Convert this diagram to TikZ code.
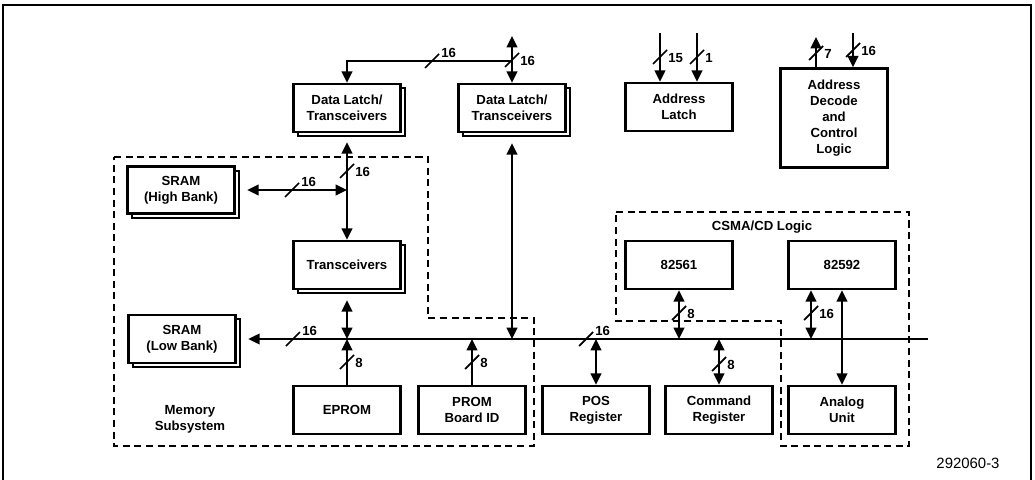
\documentclass[tikz,border=0pt]{standalone}
\usepackage{fontspec}
\setmainfont{Liberation Sans}
\usetikzlibrary{arrows.meta,shadows}

\tikzset{
  blk/.style={draw,line width=1.4pt,fill=white,align=center,inner sep=0pt,
    minimum width=2.14cm,minimum height=0.96cm},
  stk/.style={blk,copy shadow={shadow xshift=2.8pt,shadow yshift=-2.5pt,line width=1.1pt}},
  sig/.style={line width=1.3pt},
  bus/.style={line width=1.1pt},
  grp/.style={line width=1.3pt,dash pattern=on 4pt off 2.6pt},
  hw/.pic={\draw[line width=1pt] (-7,7) -- (7,-7);
    \node[anchor=west,inner sep=0pt] at (9,-8) {#1};},
  vw/.pic={\draw[line width=1pt] (-7,7) -- (7,-7);
    \node[anchor=west,inner sep=0pt] at (8,1) {#1};}
}

\begin{document}
\begin{tikzpicture}[x=0.02cm,y=-0.02cm,>={Triangle[length=6.5pt,width=6pt]},
  font=\bfseries\fontsize{7.5}{9}\selectfont]
\useasboundingbox (0,0) rectangle (1035,480);
\draw[line width=0.8pt] (3,480) -- (3,5) -- (1031,5) -- (1031,480);

% groups
\draw[grp] (114,157) -- (428,157) -- (428,318) -- (534,318) -- (534,446) -- (114,446) -- cycle;
\draw[grp] (616,212) -- (909,212) -- (909,446) -- (781,446) -- (781,321) -- (616,321) -- cycle;
\node[align=center] (mem) at (190,419) {Memory\\Subsystem};
\node (csma) at (762,227) {CSMA/CD Logic};
\node[font=\mdseries\fontsize{8.5}{9}\selectfont] (fig) at (968,463) {292060-3};

% blocks
\node[stk] (dl1) at (347,108) {Data Latch/\\Transceivers};
\node[stk] (dl2) at (512,108) {Data Latch/\\Transceivers};
\node[blk] (al) at (679,107) {Address\\Latch};
\node[blk,minimum height=1.98cm] (adc) at (834,118) {Address\\Decode\\and\\Control\\Logic};
\node[stk,minimum height=0.94cm] (sh) at (181,190) {SRAM\\(High Bank)};
\node[stk] (tr) at (347,265) {Transceivers};
\node[stk] (sl) at (182,339) {SRAM\\(Low Bank)};
\node[blk] (c61) at (679,265) {82561};
\node[blk] (c92) at (842,265) {82592};
\node[blk] (ep) at (347,410) {EPROM};
\node[blk] (pr) at (472,410) {PROM\\Board ID};
\node[blk] (pos) at (596,410) {POS\\Register};
\node[blk] (cmd) at (719,410) {Command\\Register};
\node[blk] (an) at (842,410) {Analog\\Unit};

% free ends
\coordinate (busR) at (928,339);
\coordinate (dtop) at (512,36);
\coordinate (jtop) at (512,61);
\coordinate (a15) at (660,33);
\coordinate (a1) at (697,33);
\coordinate (d7) at (816,37);
\coordinate (d16) at (853,33);
\coordinate (j92) at (811,339);

% bus
\draw[bus,<-,shorten <=2.3mm] (sl.east) -- (busR);

% connectors
\draw[sig,<->] (dtop) -- (dl2.north);
\draw[sig,->] (jtop) -| (dl1.north);
\draw[sig,<->,shorten <=1.8mm] (dl1.south) -- (tr.north);
\draw[sig,<->,shorten <=2.3mm] (sh.east) -- (sh.east -| tr.north);
\draw[sig,<->,shorten <=2mm] (tr.south) -- (tr.south |- busR);
\draw[sig,<->,shorten <=2mm] (dl2.south) -- (dl2.south |- busR);
\draw[sig,->] (ep.north) -- (ep.north |- busR);
\draw[sig,->] (pr.north) -- (pr.north |- busR);
\draw[sig,->] (a15) -- (a15 |- al.north);
\draw[sig,->] (a1) -- (a1 |- al.north);
\draw[sig,->] (d7 |- adc.north) -- (d7);
\draw[sig,->] (d16) -- (d16 |- adc.north);
\draw[sig,<->] (c61.south) -- (c61.south |- busR);
\draw[sig,<->] (j92) -- (j92 |- c92.south);
\draw[sig,<->] (c92.south) -- (an.north);
\draw[sig,<->] (pos.north) -- (pos.north |- busR);
\draw[sig,<->] (cmd.north) -- (cmd.north |- busR);

% bus widths
\pic at (432,61) {hw=16};
\pic at (512,60) {vw=16};
\pic at (660,57) {vw=15};
\pic at (697,57) {vw=1};
\pic at (816,53) {vw=7};
\pic at (853,50) {vw=16};
\pic at (292,190) {hw=16};
\pic at (347,171) {vw=16};
\pic at (293,339) {hw=16};
\pic at (347,362) {vw=8};
\pic at (472,362) {vw=8};
\pic at (586,339) {hw=16};
\pic at (679,313) {vw=8};
\pic at (719,364) {vw=8};
\pic at (811,313) {vw=16};
\end{tikzpicture}
\end{document}
